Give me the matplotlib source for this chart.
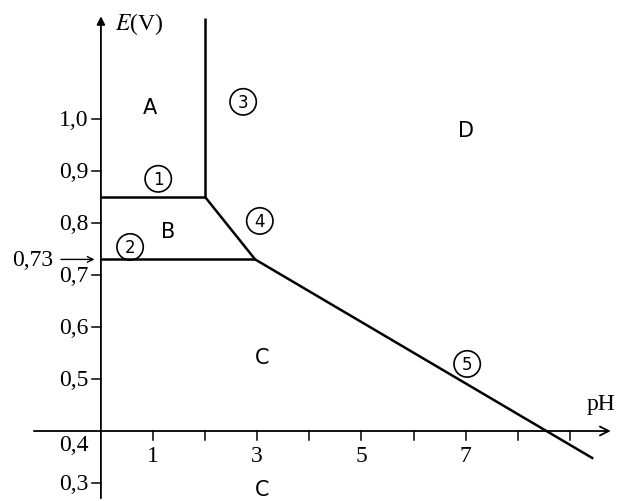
import matplotlib
matplotlib.use("Agg")
import matplotlib.pyplot as plt

plt.rcParams["mathtext.fontset"] = "stix"

# boundary lines of the diagram (pH, E in V)
vert_ph = [2.0, 2.0]
vert_e = [0.85, 1.194]
top_ph = [0.0, 2.0]
top_e = [0.85, 0.85]
diag_ph = [2.0, 2.96]
diag_e = [0.85, 0.73]
low_ph = [0.0, 2.96]
low_e = [0.73, 0.73]
slope_ph = [2.96, 9.45]
slope_e = [0.73, 0.347]

x_ticks = [1, 2, 3, 4, 5, 6, 7, 8, 9]
x_labels = {1: "1", 3: "3", 5: "5", 7: "7"}
y_ticks = [0.3, 0.5, 0.6, 0.7, 0.8, 0.9, 1.0]
y_labels = ["0,3", "0,5", "0,6", "0,7", "0,8", "0,9", "1,0"]

# region letters and circled line numbers
letters = ["A", "B", "C", "C", "D"]
letter_ph = [0.94, 1.29, 3.09, 3.09, 7.0]
letter_e = [1.023, 0.785, 0.542, 0.288, 0.979]
numbers = ["1", "2", "3", "4", "5"]
num_ph = [1.10, 0.56, 2.73, 3.05, 7.03]
num_e = [0.885, 0.754, 1.033, 0.804, 0.529]

fig = plt.figure(figsize=(6.17, 5.02), dpi=100)
ax = fig.add_axes([0, 0, 1, 1])
ax.set_xlim(-1.937, 9.906)
ax.set_ylim(0.2654, 1.2308)
ax.axis("off")

serif = "Liberation Serif"
fs = 17

# axes with arrows
ax.annotate("", xy=(0, 1.203), xytext=(0, 0.2654),
            arrowprops=dict(arrowstyle="-|>", lw=1.3, color="k", mutation_scale=12))
ax.annotate("", xy=(9.84, 0.4), xytext=(-1.34, 0.4),
            arrowprops=dict(arrowstyle="->", lw=1.3, color="k", mutation_scale=16))

for t in x_ticks:
    ax.plot([t, t], [0.4, 0.383], color="k", lw=1.1)
    if t in x_labels:
        ax.text(t, 0.374, x_labels[t], ha="center", va="top", fontsize=fs, family=serif)
for t, lab in zip(y_ticks, y_labels):
    ax.plot([-0.17, 0], [t, t], color="k", lw=1.1)
    ax.text(-0.24, t, lab, ha="right", va="center", fontsize=fs, family=serif)
ax.text(-0.24, 0.375, "0,4", ha="right", va="center", fontsize=fs, family=serif)

# 0,73 marker arrow
ax.annotate("", xy=(-0.07, 0.73), xytext=(-0.82, 0.73),
            arrowprops=dict(arrowstyle="->", lw=1.0, color="k", mutation_scale=10))
ax.text(-0.92, 0.73, "0,73", ha="right", va="center", fontsize=fs, family=serif)

ax.text(0.27, 1.185, "$E$(V)", ha="left", va="center", fontsize=fs, family=serif)
ax.text(9.6, 0.452, "pH", ha="center", va="center", fontsize=fs, family=serif)

for xs, ys in [(vert_ph, vert_e), (top_ph, top_e), (diag_ph, diag_e),
               (low_ph, low_e), (slope_ph, slope_e)]:
    ax.plot(xs, ys, color="k", lw=1.8, solid_capstyle="butt")

for s, x, y in zip(letters, letter_ph, letter_e):
    ax.text(x, y, s, ha="center", va="center", fontsize=15, family="DejaVu Sans")
for s, x, y in zip(numbers, num_ph, num_e):
    ax.text(x, y, s, ha="center", va="center", fontsize=12, family="DejaVu Sans",
            bbox=dict(boxstyle="circle,pad=0.25", fc="none", ec="k", lw=1.2))

fig.savefig("out.png", dpi=100)
